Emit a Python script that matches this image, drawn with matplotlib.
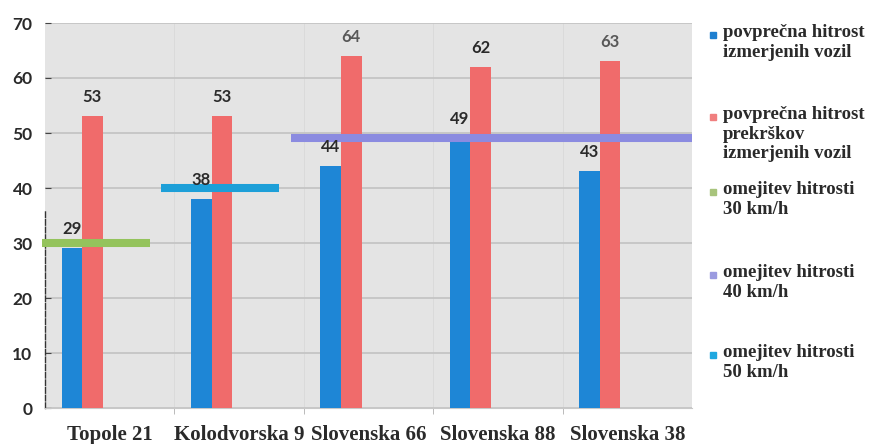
import matplotlib
matplotlib.use("Agg")
import matplotlib.pyplot as plt
import numpy as np

locations = ["Topole 21", "Kolodvorska 9", "Slovenska 66", "Slovenska 88", "Slovenska 38"]
avg_speed = [29, 38, 44, 49, 43]
avg_speed_offenders = [53, 53, 64, 62, 63]

# speed limit lines: value and the first/last category they span
limit_values = [30, 40, 49]
limit_first = [0, 1, 2]
limit_last = [0, 1, 4]

legend_labels = [
    "povprečna hitrost\nizmerjenih vozil",
    "povprečna hitrost\nprekrškov\nizmerjenih vozil",
    "omejitev hitrosti\n30 km/h",
    "omejitev hitrosti\n40 km/h",
    "omejitev hitrosti\n50 km/h",
]

blue = "#1e86d6"
red = "#f06b6b"
line_colors = ["#94c35c", "#1d9fd8", "#8b8be0"]
legend_colors = ["#1e7fd0", "#f07f7f", "#a8c47c", "#9b9be0", "#1fa8e0"]
serif = "Liberation Serif"
nums = "Lato"

fig = plt.figure(figsize=(8.76, 4.44), dpi=100)
ax = fig.add_axes([45 / 876, 1 - 408 / 444, (692 - 45) / 876, (408 - 23) / 444])
ax.set_facecolor("#e4e4e4")

x = np.arange(len(locations))
w = 0.159
b1 = ax.bar(x - 0.2925, avg_speed, w, color=blue, zorder=3)
b2 = ax.bar(x - 0.1335, avg_speed_offenders, w, color=red, zorder=3)

n = len(locations)
for val, f, l, c in zip(limit_values, limit_first, limit_last, line_colors):
    x0 = max(f - 0.6, -0.52)
    x1 = l + 0.31 if l < n - 1 else l + 0.5
    ax.plot([x0, x1], [val, val], color=c, lw=5.8, solid_capstyle="butt",
            zorder=4, clip_on=False)

for bars in (b1, b2):
    for rect in bars:
        h = rect.get_height()
        tc = "#585858" if h in (64, 63) else "#2a2a2a"
        ax.annotate(f"{h:.0f}", (rect.get_x() + rect.get_width() / 2, h),
                    xytext=(0, 14), textcoords="offset points", ha="center",
                    va="center", fontsize=12, fontweight="bold", family=nums,
                    color=tc, zorder=5)

ax.set_xlim(-0.5, n - 0.5)
ax.set_ylim(0, 70)
ax.set_yticks(range(0, 71, 10))
ax.set_xticks(x)
ax.set_xticklabels(locations, fontsize=15, fontweight="bold", family=serif,
                   color="#2a2a2a")
ax.set_xticks(x[:-1] + 0.5, minor=True)
ax.tick_params(axis="x", which="major", length=0, pad=12)
ax.tick_params(axis="x", which="minor", length=4, color="#b0b0b0")
ax.tick_params(axis="y", direction="in", length=4, color="#444444", pad=9,
               labelsize=12.5)
for t in ax.get_yticklabels():
    t.set_fontweight("bold")
    t.set_family(nums)
    t.set_color("#2a2a2a")

ax.grid(axis="y", color="#c4c4c4", lw=1.3, zorder=1)
ax.grid(axis="x", which="minor", color="#dadada", lw=0.7, zorder=1)
for s in ("top", "right"):
    ax.spines[s].set_visible(False)
ax.spines["bottom"].set_color("#c8c8c8")
ax.spines["left"].set_bounds(0, 36)
ax.spines["left"].set_linestyle((0, (4, 1.5)))
ax.spines["left"].set_color("#333333")
ax.spines["left"].set_linewidth(1.0)

# legend drawn by hand to follow the uneven spacing of the original
legend_y = [35, 117, 192, 275, 355]
for lab, c, yy in zip(legend_labels, legend_colors, legend_y):
    fig.patches.append(plt.Rectangle((710 / 876, 1 - (yy + 3) / 444), 6 / 876, 6 / 444,
                                     transform=fig.transFigure, color=c))
    fig.text(723 / 876, 1 - (yy - 11) / 444, lab, fontsize=13.5, fontweight="bold",
             family=serif, color="#2a2a2a", va="top", linespacing=1.2)

fig.savefig("out.png", dpi=100)
